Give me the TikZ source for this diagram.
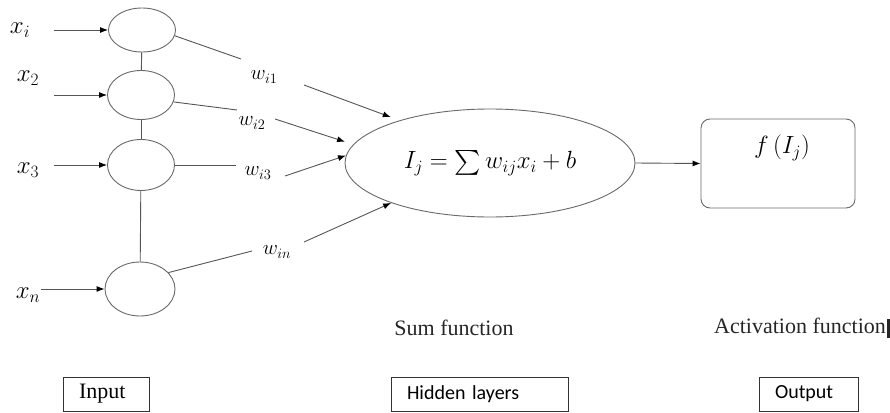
\documentclass[tikz,border=0pt]{standalone}
\usepackage{amsmath}
\usepackage{fontspec}
\setmainfont{Liberation Serif}
\newfontfamily\calibrifont{Carlito}
\usetikzlibrary{arrows.meta,shapes.geometric,positioning}
\definecolor{wiregray}{RGB}{85,85,85}
\definecolor{rimgray}{RGB}{105,105,105}
\newcommand{\fs}[1]{\fontsize{#1}{#1}\selectfont}

\begin{document}
\begin{tikzpicture}[
    x=1pt, y=-1pt,
    >={Latex[length=8pt,width=6pt,color=black]},
    neuron/.style={draw=rimgray,ellipse,line width=0.9pt,inner sep=0pt,
                   minimum width=67pt,minimum height=44pt},
    sumnode/.style={draw=rimgray,ellipse,line width=0.9pt,inner sep=0pt,
                    minimum width=290pt,minimum height=108pt,font=\fs{27}},
    actbox/.style={draw=rimgray,rounded corners=9pt,line width=0.9pt,
                   minimum width=154pt,minimum height=89pt},
    tag/.style={draw=black!80,line width=0.9pt,inner xsep=16pt,
                minimum height=34pt,align=left},
    wire/.style={draw=wiregray,line width=0.9pt},
    arr/.style={wire,->},
    xlab/.style={font=\fs{23}},
    wlab/.style={font=\fs{22},inner sep=1pt},
    titletext/.style={font=\fs{22},text=black!85},
  ]
  \useasboundingbox (0,0) rectangle (890,412);

  %% Input neurons
  \node[neuron] (in1) at (142,30) {};
  \node[neuron,minimum height=49pt] (in2) at (141,95) {};
  \node[neuron,minimum height=51pt] (in3) at (141,165) {};
  \node[neuron,minimum width=70pt,minimum height=54pt] (inn) at (140,289) {};

  \draw[wire] (in1) -- (in2);
  \draw[wire] (in2) -- (in3);
  \draw[wire] (in3) -- (inn);

  %% Inputs
  \node[xlab] (x1) at (20,30) {$x_i$};
  \node[xlab] (x2) at (28,78) {$x_2$};
  \node[xlab] (x3) at (28,170) {$x_3$};
  \node[xlab] (xn) at (28,295) {$x_n$};

  \draw[arr] ([xshift=20pt]x1.east |- in1.west) -- (in1.west);
  \draw[arr] ([xshift=11pt]x2.east |- in2.west) -- (in2.west);
  \draw[arr] ([xshift=11pt]x3.east |- in3.west) -- (in3.west);
  \draw[arr] ([xshift=-3pt]xn.east |- inn.west) -- (inn.west);

  %% Sum function
  \node[sumnode] (sum) at (490,163)
    {\raisebox{5pt}{$I_j = \sum w_{ij} x_i + b$}};

  %% Weights
  \node[wlab] (w1) at (264,77) {$w_{i1}$};
  \node[wlab] (w2) at (252,123) {$w_{i2}$};
  \node[wlab] (w3) at (258,173) {$w_{i3}$};
  \node[wlab] (wn) at (277,252) {$w_{in}$};

  \draw[wire] (in1.-10) -- ([shift={(-23pt,18pt)}]w1.center);
  \draw[arr] ([shift={(40pt,-8pt)}]w1.center) -- ([shift={(-3pt,5pt)}]sum.157);

  \draw[wire] (in2.-12) -- ([shift={(-15pt,13pt)}]w2.center);
  \draw[arr] ([shift={(23pt,4pt)}]w2.center) -- ([xshift=-11pt]sum.171);

  \draw[wire] (in3.east) -- ([shift={(-22pt,8pt)}]w3.center);
  \draw[arr] ([shift={(27pt,-3pt)}]w3.center) -- (sum.177);

  \draw[wire] (inn.30) -- ([shift={(-25pt,1pt)}]wn.center);
  \draw[arr] ([shift={(27pt,10pt)}]wn.center) -- (sum.202);

  %% Activation
  \node[actbox] (act) at (778,163.5) {};
  \node[font=\fs{24}] (fI) at ([shift={(4pt,16pt)}]act.center) {$f\,(I_j)$};
  \draw[arr] (sum.east) -- (act.west);

  %% Captions
  \node[titletext] (sumcap) at (454,328) {Sum function};
  \node[titletext] (actcap) at (802,328)
    {Activation function\hspace{1pt}\rule[-5pt]{3pt}{19pt}};

  %% Layer tags
  \node[tag,text width=54pt,font=\fs{22}] (input) at (106,394) {Input};
  \node[tag,text width=145pt,font=\calibrifont\fs{20}] (hidden) at (479.5,394)
    {Hidden layers};
  \node[tag,text width=67pt,font=\calibrifont\fs{20}] (output) at (808.5,394)
    {Output};
\end{tikzpicture}
\end{document}
